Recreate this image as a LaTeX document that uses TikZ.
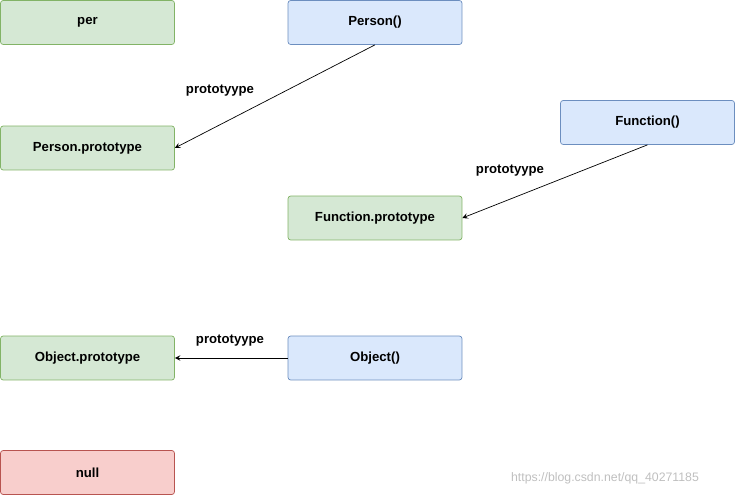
\documentclass[tikz,border=0pt]{standalone}
\usepackage{fontspec}
\setmainfont{Liberation Sans}
\usetikzlibrary{positioning}
\definecolor{gfill}{HTML}{D5E8D4}\definecolor{gdraw}{HTML}{82B366}
\definecolor{bfill}{HTML}{DAE8FC}\definecolor{bdraw}{HTML}{6C8EBF}
\definecolor{rfill}{HTML}{F8CECC}\definecolor{rdraw}{HTML}{B85450}
\begin{document}
\begin{tikzpicture}[x=0.02cm,y=-0.02cm,
    box/.style={rectangle, rounded corners=1.5pt, minimum width=3.48cm, minimum height=0.88cm, font=\fontsize{7.5}{9}\selectfont\bfseries, inner sep=0pt},
    obj/.style={box, fill=gfill, draw=gdraw},
    fun/.style={box, fill=bfill, draw=bdraw},
    nul/.style={box, fill=rfill, draw=rdraw},
    lbl/.style={font=\fontsize{7.5}{9}\selectfont\bfseries},
    link/.style={->, >=stealth, line width=0.4pt}]
    \useasboundingbox (0,0) rectangle (736,496);
    % objects
    \node[obj] (per) at (87.5,22.5) {per};
    \node[obj] (personproto) at (87.5,148) {Person.prototype};
    \node[obj] (funproto) at (375,218) {Function.prototype};
    \node[obj] (objproto) at (87.5,358) {Object.prototype};
    \node[nul] (null) at (87.5,472.5) {null};
    % constructors
    \node[fun] (person) at (375,22.5) {Person()};
    \node[fun] (function) at (647.5,122.5) {Function()};
    \node[fun] (object) at (375,358) {Object()};
    % links
    \draw[link] (person.south) -- (personproto.east);
    \draw[link] (function.south) -- (funproto.east);
    \draw[link] (object.west) -- (objproto.east);
    % labels
    \node[lbl] (l1) at (220,91) {prototyype};
    \node[lbl] (l2) at (510,171) {prototyype};
    \node[lbl] (l3) at (230,341) {prototyype};
    \node[font=\fontsize{7}{8}\selectfont, text=black!25] (wm) at (605,478) {https://blog.csdn.net/qq\_40271185};
\end{tikzpicture}
\end{document}
